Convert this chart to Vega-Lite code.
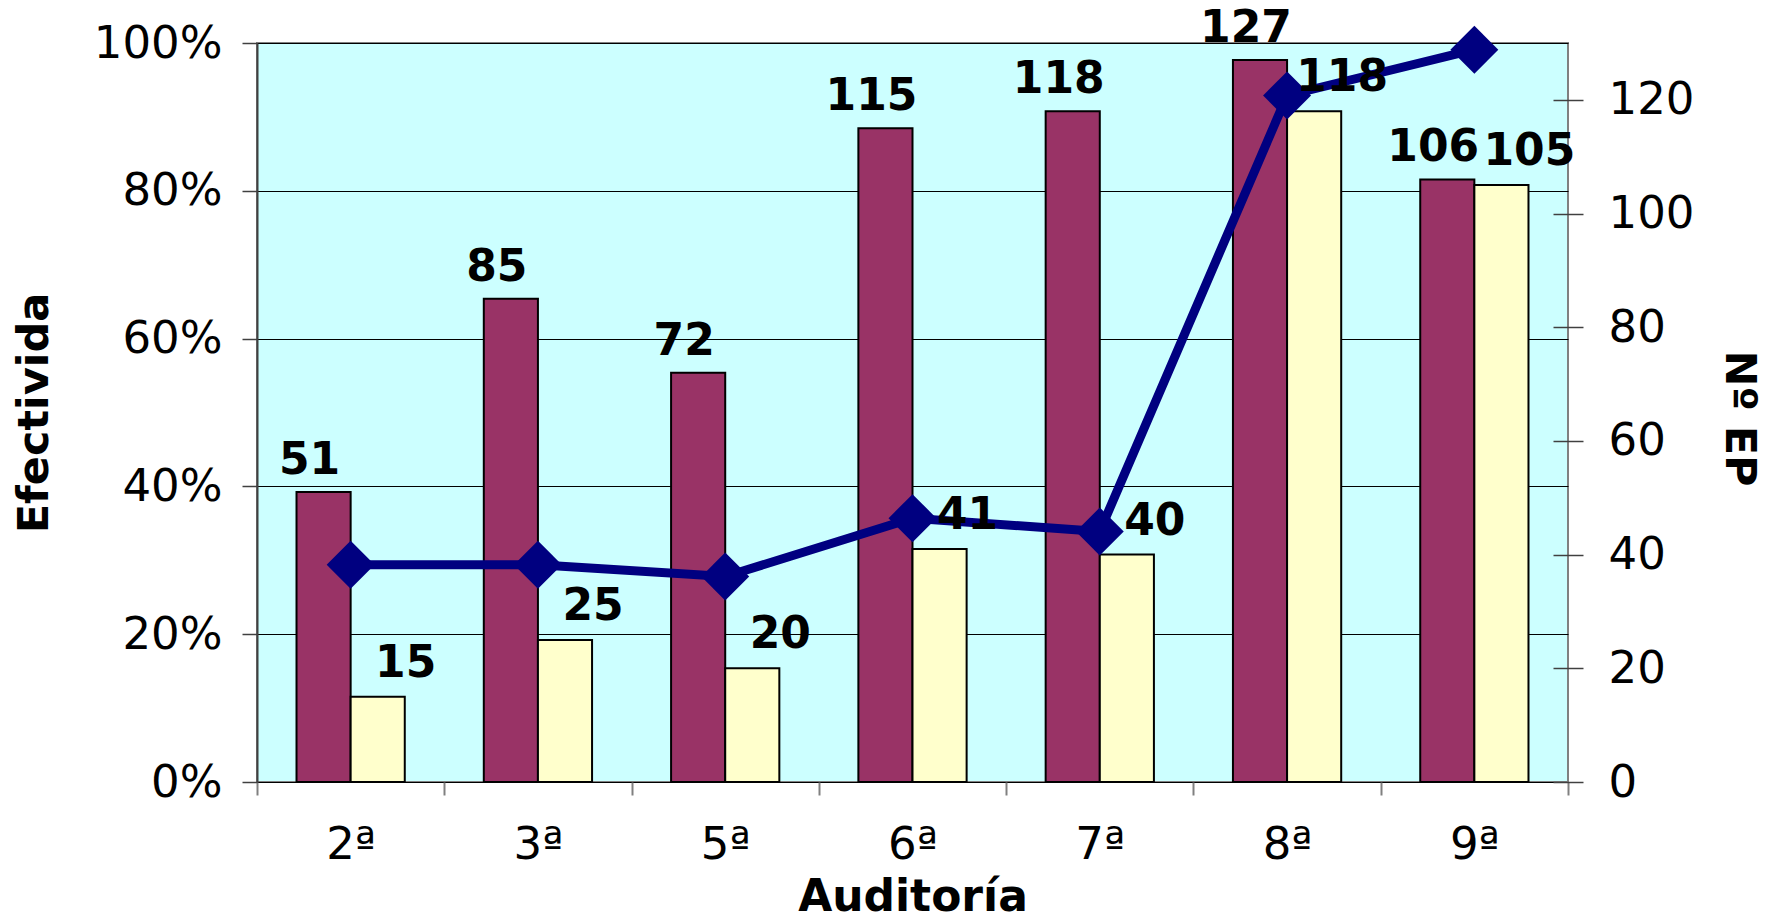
{
  "$schema": "https://vega.github.io/schema/vega-lite/v6.json",
  "width": 1311,
  "height": 739,
  "autosize": {"type": "none"},
  "padding": {"left": 257, "top": 43, "right": 205, "bottom": 140},
  "background": "white",
  "config": {
    "font": "DejaVu Sans",
    "view": {"fill": "#CCFFFF", "stroke": "#808080", "strokeWidth": 2}
  },
  "datasets": {
    "barras": [
      {"auditoria": "2ª", "serie": "total", "n": 51},
      {"auditoria": "2ª", "serie": "efectivos", "n": 15},
      {"auditoria": "3ª", "serie": "total", "n": 85},
      {"auditoria": "3ª", "serie": "efectivos", "n": 25},
      {"auditoria": "5ª", "serie": "total", "n": 72},
      {"auditoria": "5ª", "serie": "efectivos", "n": 20},
      {"auditoria": "6ª", "serie": "total", "n": 115},
      {"auditoria": "6ª", "serie": "efectivos", "n": 41},
      {"auditoria": "7ª", "serie": "total", "n": 118},
      {"auditoria": "7ª", "serie": "efectivos", "n": 40},
      {"auditoria": "8ª", "serie": "total", "n": 127},
      {"auditoria": "8ª", "serie": "efectivos", "n": 118},
      {"auditoria": "9ª", "serie": "total", "n": 106},
      {"auditoria": "9ª", "serie": "efectivos", "n": 105}
    ],
    "efect": [
      {"auditoria": "2ª", "pct": 0.294},
      {"auditoria": "3ª", "pct": 0.294},
      {"auditoria": "5ª", "pct": 0.278},
      {"auditoria": "6ª", "pct": 0.357},
      {"auditoria": "7ª", "pct": 0.339},
      {"auditoria": "8ª", "pct": 0.929},
      {"auditoria": "9ª", "pct": 0.991}
    ]
  },
  "layer": [
    {
      "data": {"name": "barras"},
      "mark": {"type": "bar", "stroke": "black", "strokeWidth": 2},
      "encoding": {
        "x": {
          "field": "auditoria", "type": "nominal",
          "scale": {"domain": ["2ª", "3ª", "5ª", "6ª", "7ª", "8ª", "9ª"], "paddingInner": 0, "paddingOuter": 0},
          "axis": {
            "title": "Auditoría", "titleFontSize": 44, "titleFontWeight": "bold", "titleColor": "black",
            "titleY": 128, "titleBaseline": "alphabetic",
            "labelFontSize": 45, "labelAngle": 0, "labelPadding": 27, "labelColor": "black",
            "tickBand": "extent", "tickSize": 13, "tickColor": "#808080", "tickWidth": 2,
            "domain": false, "grid": false
          }
        },
        "xOffset": {
          "field": "serie", "type": "nominal",
          "scale": {"domain": ["total", "efectivos"], "paddingInner": 0, "paddingOuter": 0.73}
        },
        "y": {
          "field": "n", "type": "quantitative",
          "scale": {"domain": [0, 130], "nice": false, "zero": true},
          "axis": {
            "orient": "right", "values": [0, 20, 40, 60, 80, 100, 120],
            "title": "Nº EP", "titleFontSize": 43, "titleFontWeight": "bold", "titleColor": "black",
            "titleAngle": 90, "titleBaseline": "alphabetic", "titleX": 172, "titleY": 375,
            "labelFontSize": 45, "labelPadding": 25, "labelColor": "black",
            "tickSize": 30, "offset": -15, "tickColor": "#404040", "tickWidth": 1.5,
            "domain": false, "grid": false
          }
        },
        "color": {
          "field": "serie", "type": "nominal",
          "scale": {"domain": ["total", "efectivos"], "range": ["#993366", "#FFFFCC"]},
          "legend": null
        }
      }
    },
    {
      "data": {"name": "efect"},
      "mark": {"type": "line", "color": "#000080", "strokeWidth": 9},
      "encoding": {
        "x": {"field": "auditoria", "type": "nominal", "scale": {"domain": ["2ª", "3ª", "5ª", "6ª", "7ª", "8ª", "9ª"]}},
        "y": {
          "field": "pct", "type": "quantitative",
          "scale": {"domain": [0, 1], "nice": false},
          "axis": {
            "orient": "left", "values": [0, 0.2, 0.4, 0.6, 0.8, 1], "format": ".0%",
            "title": "Efectivida", "titleFontSize": 43, "titleFontWeight": "bold", "titleColor": "black",
            "titleAngle": -90, "titleBaseline": "alphabetic", "titleX": -210,
            "labelFontSize": 45, "labelPadding": 20, "labelColor": "black",
            "tickSize": 15, "tickColor": "#404040", "tickWidth": 1.5,
            "domain": true, "domainColor": "#404040", "domainWidth": 2,
            "grid": true, "gridColor": "#000000", "gridWidth": 1
          }
        }
      }
    },
    {
      "data": {"name": "efect"},
      "mark": {"type": "point", "shape": "diamond", "size": 2300, "filled": true, "color": "#000080", "opacity": 1},
      "encoding": {
        "x": {"field": "auditoria", "type": "nominal", "scale": {"domain": ["2ª", "3ª", "5ª", "6ª", "7ª", "8ª", "9ª"]}},
        "y": {"field": "pct", "type": "quantitative", "scale": {"domain": [0, 1], "nice": false}, "axis": null}
      }
    },
    {
      "data": {"name": "barras"},
      "transform": [{"filter": "datum.serie === 'total'"}],
      "mark": {"type": "text", "fontSize": 44, "fontWeight": "bold", "baseline": "alphabetic", "dx": -14, "dy": -18, "color": "black"},
      "encoding": {
        "x": {"field": "auditoria", "type": "nominal", "scale": {"domain": ["2ª", "3ª", "5ª", "6ª", "7ª", "8ª", "9ª"]}},
        "xOffset": {"field": "serie", "type": "nominal", "scale": {"domain": ["total", "efectivos"]}},
        "y": {"field": "n", "type": "quantitative", "scale": {"domain": [0, 130], "nice": false}, "axis": null},
        "text": {"field": "n", "type": "quantitative"}
      }
    },
    {
      "data": {"name": "barras"},
      "transform": [{"filter": "datum.serie === 'efectivos'"}],
      "mark": {"type": "text", "fontSize": 44, "fontWeight": "bold", "baseline": "alphabetic", "dx": 28, "dy": -20, "color": "black"},
      "encoding": {
        "x": {"field": "auditoria", "type": "nominal", "scale": {"domain": ["2ª", "3ª", "5ª", "6ª", "7ª", "8ª", "9ª"]}},
        "xOffset": {"field": "serie", "type": "nominal", "scale": {"domain": ["total", "efectivos"]}},
        "y": {"field": "n", "type": "quantitative", "scale": {"domain": [0, 130], "nice": false}, "axis": null},
        "text": {"field": "n", "type": "quantitative"}
      }
    }
  ],
  "resolve": {"scale": {"y": "independent"}, "axis": {"y": "independent"}}
}
